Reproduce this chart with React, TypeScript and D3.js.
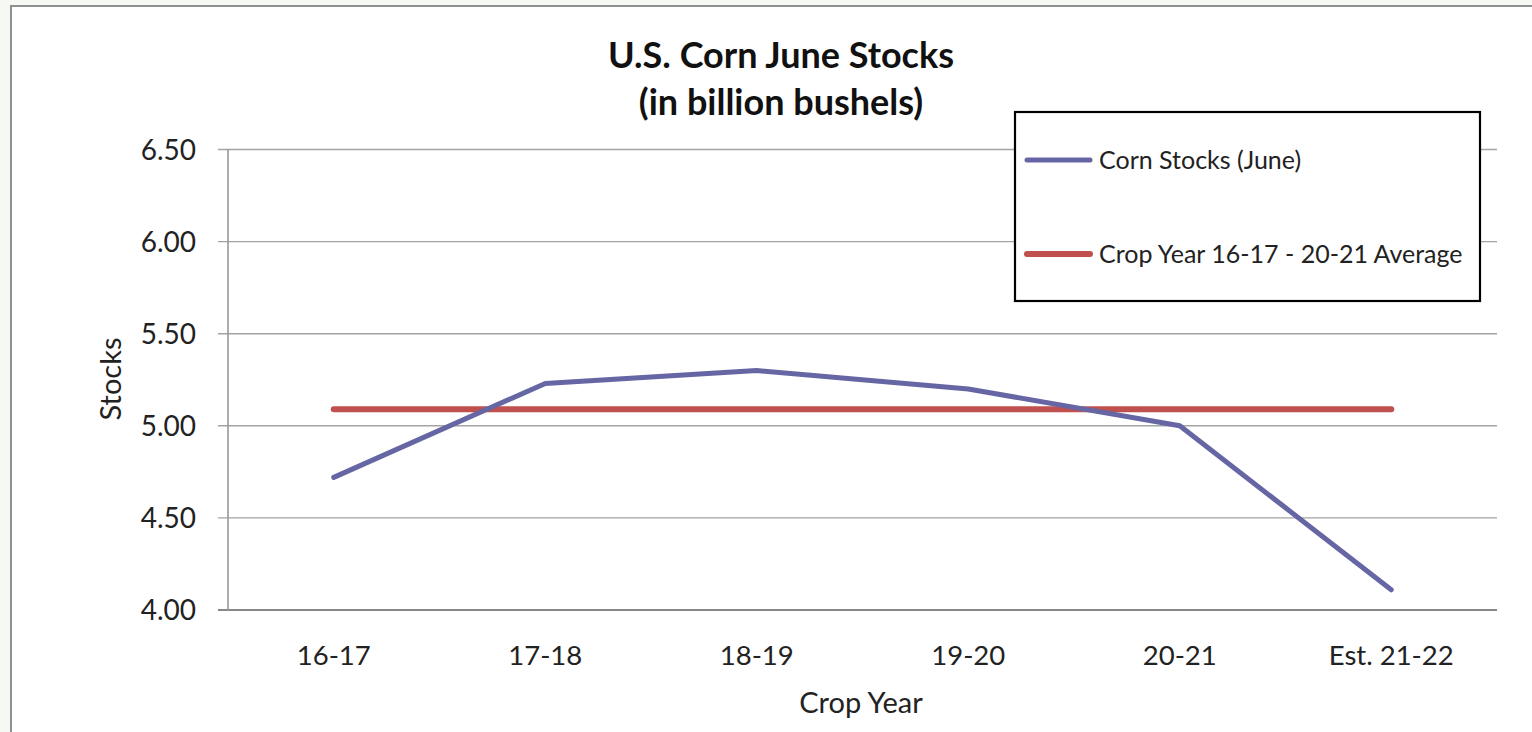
import React from "react";
import * as d3 from "d3";

const categories = ["16-17", "17-18", "18-19", "19-20", "20-21", "Est. 21-22"];
const cornStocks = [4.72, 5.23, 5.3, 5.2, 5.0, 4.11];
const average = [5.09, 5.09, 5.09, 5.09, 5.09, 5.09];
const yTicks = [4.0, 4.5, 5.0, 5.5, 6.0, 6.5];
const seriesNames = ["Corn Stocks (June)", "Crop Year 16-17 - 20-21 Average"];

const W = 1532;
const H = 732;
const FONT = "Lato, 'Open Sans', sans-serif";
const BLUE = "#6566a3";
const RED = "#c0504d";

export default function App() {
  const left = 228, right = 1497, top = 149.5, bottom = 610;
  const x = d3.scaleBand<string>().domain(categories).range([left, right]);
  const y = d3.scaleLinear().domain([4, 6.5]).range([bottom, top]);
  const cx = (c: string) => (x(c) as number) + x.bandwidth() / 2;
  const line = d3
    .line<number>()
    .x((_, i) => cx(categories[i]))
    .y((d) => y(d));

  return (
    <div style={{ position: "fixed", left: 0, top: 0, width: W, height: H }}>
      <svg width={W} height={H} style={{ display: "block" }}>
        <rect x={0} y={0} width={W} height={H} fill="#f6f8f4" />
        <rect x={11} y={6} width={W + 20} height={H + 20} fill="#ffffff" stroke="#8f8f8f" strokeWidth={2} />

        {/* gridlines */}
        {yTicks.map((t) => (
          <line
            key={"g" + t}
            x1={left - 10}
            x2={right}
            y1={y(t)}
            y2={y(t)}
            stroke={t === 4 ? "#888888" : "#a3a3a3"}
            strokeWidth={t === 4 ? 2.2 : 1.4}
          />
        ))}
        <line x1={left} x2={left} y1={top} y2={bottom} stroke="#999999" strokeWidth={1.6} />

        {/* y tick labels */}
        {yTicks.map((t) => (
          <text
            key={"t" + t}
            x={196}
            y={y(t)}
            dy="0.36em"
            textAnchor="end"
            fontFamily={FONT}
            fontSize={28}
            fill="#222"
          >
            {d3.format(".2f")(t)}
          </text>
        ))}

        {/* x labels */}
        {categories.map((c) => (
          <text
            key={"x" + c}
            x={cx(c)}
            y={665}
            textAnchor="middle"
            fontFamily={FONT}
            fontSize={27.5}
            fill="#222"
          >
            {c}
          </text>
        ))}

        <text x={861} y={713} textAnchor="middle" fontFamily={FONT} fontSize={29} fill="#222">
          Crop Year
        </text>
        <text
          transform="translate(121,379) rotate(-90)"
          textAnchor="middle"
          fontFamily={FONT}
          fontSize={29}
          fill="#222"
        >
          Stocks
        </text>

        {/* title */}
        <text x={781} y={68} textAnchor="middle" fontFamily={FONT} fontWeight={700} fontSize={36} fill="#111">
          U.S. Corn June Stocks
        </text>
        <text x={781} y={115} textAnchor="middle" fontFamily={FONT} fontWeight={700} fontSize={36} fill="#111">
          (in billion bushels)
        </text>

        {/* series */}
        <path d={line(average) || ""} fill="none" stroke={RED} strokeWidth={6} strokeLinecap="round" strokeLinejoin="round" />
        <path d={line(cornStocks) || ""} fill="none" stroke={BLUE} strokeWidth={5} strokeLinecap="round" strokeLinejoin="round" />

        {/* legend */}
        <rect x={1015} y={112} width={465} height={189} fill="#ffffff" stroke="#000" strokeWidth={2.2} />
        {seriesNames.map((n, i) => {
          const ly = i === 0 ? 160 : 254;
          return (
            <g key={n}>
              <line x1={1027} x2={1090} y1={ly} y2={ly} stroke={i === 0 ? BLUE : RED} strokeWidth={i === 0 ? 5 : 6} strokeLinecap="round" />
              <text x={1099} y={ly} dy="0.36em" fontFamily={FONT} fontSize={25} fill="#222">
                {n}
              </text>
            </g>
          );
        })}
      </svg>
    </div>
  );
}
